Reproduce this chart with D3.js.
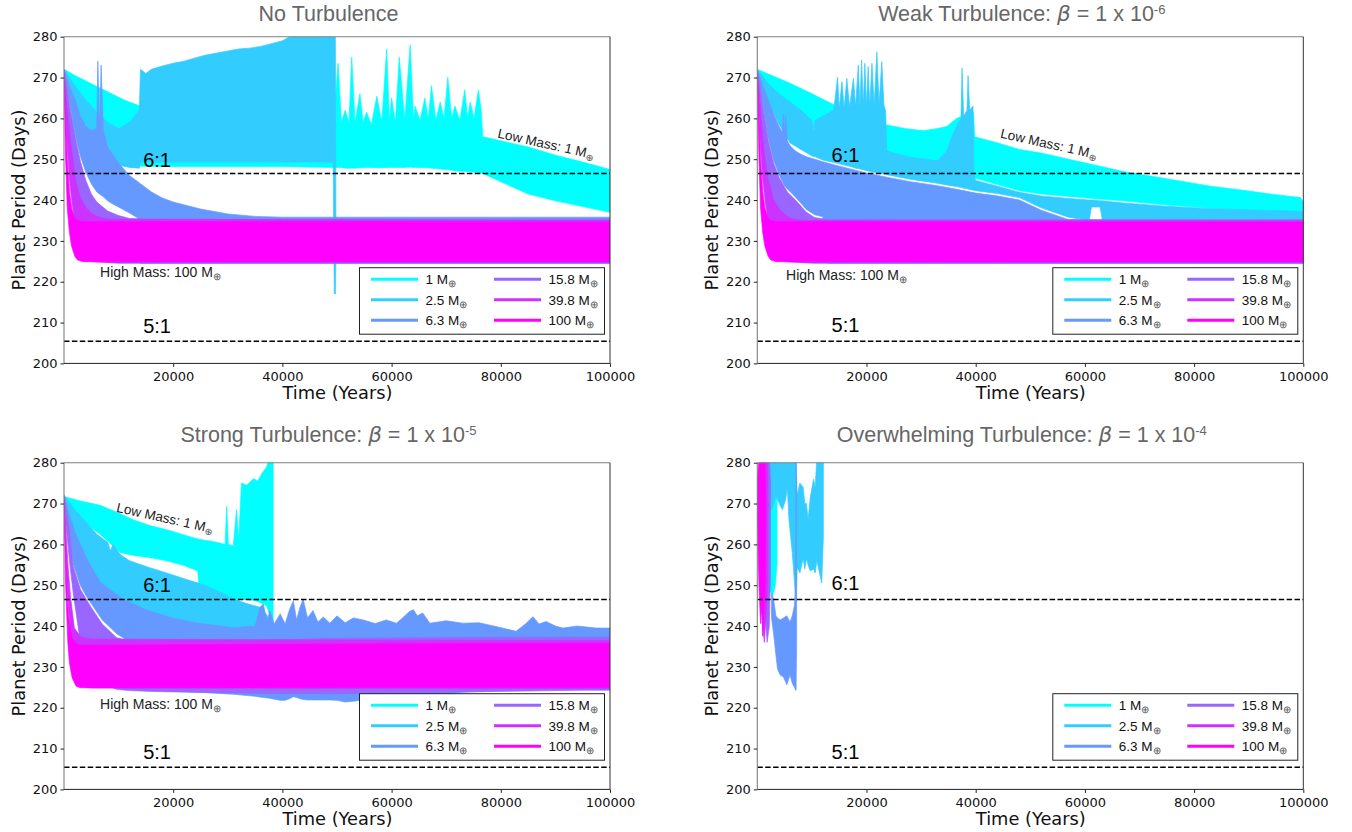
<!DOCTYPE html>
<html><head><meta charset="utf-8">
<script src="https://cdn.jsdelivr.net/npm/d3@7"></script>
<style>body{margin:0;background:#fff}svg{display:block}</style>
</head><body><svg id="c" width="1352" height="832"></svg>
<script>
// ---------- categories / ticks ----------
const masses = ["1","2.5","6.3","15.8","39.8","100"];
const massColors = ["#00ffff","#33ccff","#6699ff","#9966ff","#cc33ff","#ff00ff"];
const yTicks = [200,210,220,230,240,250,260,270,280];
const xTicks = [20000,40000,60000,80000,100000];
const resonanceValues = [246.5, 205.4];
const resonanceLabels = ["6:1","5:1"];
const panelTitles = ["No Turbulence","Weak Turbulence: ","Strong Turbulence: ","Overwhelming Turbulence: "];
const betaExponents = [null,"-6","-5","-4"];

// ---------- series: [time (yr), lower envelope, upper envelope] (days) ----------
// No Turbulence
const noTurb_1 = [[0,270,272],[2000,262,270.5],[5000,256,268.5],[8000,252,266.5],[11000,249.5,264.5],[13900,248.3,263],[20000,248.2,262],[30000,248.2,262],[40000,248.2,262],[49500,248,262],[50200,248,273.5],[50800,248,259],[51500,247.8,262],[52200,247.8,259],[52700,247.8,275],[53300,247.8,259],[54200,247.9,266],[54800,247.9,259],[55400,248,261.5],[56300,248,258.5],[57300,247.9,265.4],[58200,247.9,259],[59100,248,277],[59600,248,259],[60000,248,265],[60700,248,259],[61400,248,275],[62400,248,259.5],[63400,248.1,278],[64000,248,259.5],[64300,248,263],[65200,248,259.5],[66100,247.9,265],[66700,247.9,259.5],[67300,247.8,268],[68100,247.7,259.5],[68900,247.6,264],[69600,247.5,260],[70300,247.5,270],[71000,247.3,260],[71600,247.1,263],[72500,247.1,259.5],[73400,247,267],[73900,247,260],[74400,246.9,264],[75100,246.8,260],[75900,246.7,267],[76400,246.6,262],[76700,246.5,255.5],[80000,244.5,254.5],[85000,241.5,253],[90000,239.8,251],[95000,238.4,249.3],[100000,237,247.5]];
const noTurb_2_5 = [[0,270,272],[1000,265,270],[2000,261,268],[4000,256,264.5],[6000,252.5,261.5],[8000,250,259],[10000,248.5,257.5],[12000,248,259],[13800,247.8,262],[14000,249.3,272],[15000,249.3,271],[16000,249.3,272],[18000,249.3,272.8],[20000,249.3,273.5],[22000,249.3,274],[24000,249.3,274.8],[26000,249.3,275.5],[28000,249.3,276],[30000,249.3,276.5],[32000,249.3,277],[34000,249.3,277.2],[36000,249.3,277.6],[38000,249.3,278.3],[40000,249.3,279],[42000,249.3,280.5],[49300,249.3,281],[49500,217,281],[49700,217,281],[49800,225,235],[100000,225,235]];
const noTurb_6_3 = [[0,271,272],[1000,264,268],[2200,255.2,264],[3000,250.8,260.5],[4000,246.8,258],[5000,244,257],[6000,242,257.5],[6200,241.8,274],[6500,241.5,257],[6800,241.2,273],[7200,240.8,257],[8000,239.8,253],[9000,239,251],[10000,238.3,249],[12000,236.8,246],[13500,235.6,244.5],[14000,224.5,244],[16000,224.5,242],[18000,224.5,240.5],[20000,224.5,239.5],[25000,224.5,237.8],[30000,224.5,236.6],[35000,224.5,236],[40000,224.5,235.8],[100000,224.5,235.8]];
const noTurb_15_8 = [[0,270,272],[1000,252,263.3],[2200,240,254.5],[3000,233,249.5],[4000,229,244.8],[5000,227,241.5],[6000,226,239.5],[8000,224.7,237.3],[10000,224.5,236.2],[12000,224.5,235.5],[15000,224.5,235.3],[100000,224.5,235.3]];
const noTurb_39_8 = [[0,270,271.5],[500,255,263],[1000,245,257],[1500,239,251],[2200,233,244.5],[3000,229,240.5],[4000,226,238.2],[5000,225,236.8],[6000,224.8,236],[8000,224.7,235.3],[100000,224.7,235]];
const noTurb_100 = [[0,270,271],[300,250,260],[600,238,250],[1000,232,242],[1400,228.6,238],[2000,226.2,235.5],[2500,225.3,235],[3500,224.9,234.7],[100000,224.9,234.6]];

// Weak Turbulence
const weak_1 = [[0,270,272],[3000,266,270.3],[6000,262.5,268.6],[10000,258,266],[14500,254,263],[20000,251.5,260],[23700,250,258.4],[27000,249,257.5],[30400,248,257],[33000,247.3,257.5],[34700,246.8,258],[36500,246.4,260],[38500,245.9,261],[39600,245.6,261.5],[39800,245.4,255.5],[44000,243.8,254],[48000,242.3,252.4],[52000,241.5,251.5],[57000,240.9,250],[62000,240.3,248.5],[67000,239.8,247],[75000,238.8,245.2],[83000,238,243.4],[90000,237.5,242.2],[95000,237.1,241.3],[99500,236.8,240.6],[100000,236.8,239.5]];
const weak_2_5 = [[0,270,272],[2000,264,268.5],[4000,258.5,266],[6000,254,264],[8000,252.4,262],[10000,250.8,259.5],[10300,250.7,257],[10600,250.6,259.5],[12000,249.8,260.5],[14000,249.2,262],[14700,249,270.1],[15000,248.9,262.5],[15500,248.7,269],[15900,248.6,262.5],[16400,248.4,269.8],[16900,248.3,262.8],[17600,248,269.8],[18000,247.8,263],[18500,247.7,273.1],[18800,247.6,263],[19100,247.5,274.3],[19400,247.4,263],[19700,247.3,273.5],[20000,247.2,263],[20300,247.1,272.7],[20600,247,263],[21000,246.9,273.5],[21400,246.8,263],[21900,246.7,276.3],[22300,246.6,263.5],[22800,246.5,273.9],[23200,246.4,263],[23500,246.3,262],[23700,246.2,252],[28000,245.1,250.5],[33000,244.1,249.6],[34700,243.7,252],[35500,243.5,255],[36500,243.3,258],[37300,243.1,260],[37500,243,272.3],[37800,242.9,260.5],[38400,242.8,262],[38600,242.7,270.5],[38900,242.6,262],[39500,242.4,263],[39700,242.4,246],[40000,242.3,244.8],[44000,241.6,243.4],[48000,240.6,241.9],[52000,238.1,241],[57000,235.8,240.4],[60800,235,240],[61200,238.3,240],[62800,238.3,239.8],[63200,235,239.8],[67000,234.7,239.3],[75000,234.6,238.5],[83000,234.5,237.9],[90000,234.5,237.6],[100000,234.5,237.2]];
const weak_6_3 = [[0,271,272],[1000,263.7,268],[2000,255.2,264.5],[3000,249.7,261],[4000,246.2,258],[4600,244.5,256.6],[4800,244,261],[5000,243.5,256.2],[5200,243.2,260.5],[5500,242.7,254.5],[6000,242.1,253.3],[7000,240.7,252],[8000,239.2,251.2],[9000,237.7,250.6],[10500,236.4,250],[12000,235.9,249.4],[13000,224.5,249],[15000,224.5,248.3],[20000,224.5,246.6],[23700,224.5,245.6],[28000,224.5,244.5],[33000,224.5,243.5],[37000,224.5,242.5],[40000,224.5,241.7],[44000,224.5,241],[48000,224.5,240],[52000,224.5,237.5],[57000,224.5,235.2],[100000,224.5,234.8]];
const weak_15_8 = [[0,270,272],[1000,252,263],[2000,240,254.5],[3000,233,249],[4000,229,245.5],[5500,226.5,242],[7000,225.5,240],[8000,224.7,238.5],[9000,224.6,237],[10500,224.5,235.7],[13000,224.5,235.2],[100000,224.5,235.2]];
const weak_39_8 = [[0,270,271.5],[500,255,263],[1000,245,255],[1500,239,249],[2000,235,245],[3000,229,240],[4000,226,237.8],[5000,225,236.5],[6000,224.8,235.6],[8000,224.7,235],[100000,224.7,234.9]];
const weak_100 = [[0,270,271],[300,250,260],[600,238,250],[1000,232,242],[1400,228.6,238],[2000,226.2,235.5],[2500,225.3,235],[3500,224.9,234.7],[100000,224.9,234.6]];

// Strong Turbulence
const strong_1 = [[0,270,271.7],[3000,266,270.6],[6600,262.5,269.6],[10300,258,267.5],[12700,257.3,266],[15700,256.8,264.6],[18800,256,263.6],[22000,254.8,262.3],[24500,253.5,261.3],[24900,247.2,261.2],[28000,246.8,260.5],[29500,246.7,260],[29800,246.7,269.3],[30100,246.7,260],[31000,246.6,259.6],[31600,246.6,268.5],[32000,246.6,261],[32500,246.5,275],[33500,246.5,274.5],[34700,246.3,276.1],[35500,246,275.5],[36300,245.5,277.5],[37100,245,278.9],[37600,243,281],[38000,239,281],[38300,238.7,281]];
const strong_2_5 = [[0,270,272],[2000,262,268.5],[4000,256,265.5],[6000,250.5,262.5],[8000,248,260.5],[8500,247.6,258.5],[9000,247.2,260],[10300,246,257.5],[12000,245,256],[15700,242.5,254.3],[18800,241,253],[22000,240.2,251.6],[24900,239.6,250.4],[28000,239,248.7],[31000,238.6,246.7],[33000,238.5,245.7],[35900,238,244.6],[37000,237.8,243],[38000,236,241],[40000,225,238.5],[100000,225,237.5]];
const strong_6_3 = [[0,271.5,272],[1000,262,267],[1700,255.3,264.5],[2000,254,263],[3000,250,260],[4000,247.5,257],[5000,245.5,254.5],[6600,242.3,250.8],[7000,241.5,250.3],[9600,238.2,247.8],[10000,237.8,247.3],[11000,237,246.5],[11500,224.5,246.2],[15000,224.3,244],[20000,224,241.9],[25000,223.8,240.6],[31000,223.3,239.6],[35000,222.8,240],[35900,222.6,244.6],[36500,222.5,245.4],[37200,222.4,241],[37700,222.3,243.8],[38500,222.1,240.5],[39600,221.8,243],[40500,221.8,240.5],[41300,222.2,244],[42000,222.7,246.2],[42600,222.5,241.5],[43200,222.2,244.5],[43800,222,246.6],[44600,221.9,242],[45600,221.9,243.8],[46500,221.9,241],[47500,221.9,242.2],[48700,221.9,240.7],[50000,221.8,242.5],[51500,221.4,240.8],[53000,221.6,242],[54800,221.9,241.5],[57000,222.2,240.6],[59000,222.4,241.5],[60900,222.5,240.7],[62000,222.6,242],[63300,222.7,243.6],[64000,222.7,244],[64700,222.7,242.5],[65700,222.7,243.2],[67000,222.7,240.7],[70000,223.3,241.3],[73000,223.8,240.7],[76000,224,240.8],[79100,224.2,239.9],[81000,224.2,239.3],[82800,224.3,238.7],[84500,224.3,240.5],[85900,224.3,242.3],[87000,224.4,240.5],[88300,224.4,241.1],[90000,224.4,240],[91400,224.4,239.5],[94000,224.4,240],[97500,224.3,239.5],[100000,224.3,239.5]];
const strong_15_8 = [[0,270,272],[1000,256,263],[1700,248,254.5],[3000,236,249],[5000,229,244.5],[7000,226,240.5],[9600,224.5,237.2],[12000,224.2,236.3],[16000,224,236],[30000,223.6,236.3],[50000,223.4,237],[70000,223.8,237.2],[100000,224.4,237.3]];
const strong_39_8 = [[0,270,271.5],[500,252,260],[800,245,253.5],[1200,238,247],[1900,231,239.5],[3000,226.5,237.5],[4000,225,237],[5000,224.8,236.8],[100000,224.7,236.4]];
const strong_100 = [[0,270,271],[300,250,258],[700,236,245],[1000,231,240.5],[1500,227.3,237],[2200,225.3,235.8],[3000,224.9,235.3],[50000,225,235.6],[100000,225,235.8]];

// Overwhelming Turbulence
const over_1 = [[0,270,273.5],[800,262,277],[1500,255,281],[2200,249,281],[2800,247.3,281],[3300,250,281],[3600,255,275]];
const over_2_5 = [[2300,268,281],[2800,269,281],[3400,272,281],[4000,270,281],[4600,268.5,281],[5200,271,281],[5500,274,281],[5800,266,281],[6400,258,281],[6900,249,281],[7100,246,281],[7300,254.5,272],[7800,253,275],[8400,256.5,274],[8700,254,270],[9000,256.5,270],[9300,255,266],[9700,253.5,271.5],[10300,254,276],[10600,253,274],[10900,256,281],[11400,253,281],[11800,250.5,281],[12100,262,281]];
const over_6_3 = [[2600,242,248],[3000,238,246.5],[3400,233,242.5],[3700,229.5,242],[4200,228,241.5],[4800,227.5,242],[5400,225.6,242.5],[6000,228,241],[6400,226,242.5],[6800,225,245],[7000,224.3,250],[7100,224.3,281],[7200,235,270]];
const over_15_8 = [[0,268,276],[800,250,281],[1400,244,281],[1800,236,281],[2200,240,281],[2400,252,276]];
const over_39_8 = [[0,268,276],[600,246,281],[1000,240,281],[1300,236,281],[1600,243,281],[1900,250,281]];
const over_100 = [[0,268,275],[300,250,281],[600,240.6,281],[800,246,281],[1000,237.5,281],[1200,244,281],[1400,248,281],[1500,255,272]];

// ---------- drawing ----------
const svg = d3.select("#c");
const W = 546, H = 326.7;
const panels = [
  {L:64, T:36.7, tOff:-16, series:[noTurb_1,noTurb_2_5,noTurb_6_3,noTurb_15_8,noTurb_39_8,noTurb_100],
   six:[14500,248.2], five:[14500,207.4], high:[6600,221.1], low:[79300,255.3,12.5]},
  {L:757.3, T:36.7, tOff:-16, series:[weak_1,weak_2_5,weak_6_3,weak_15_8,weak_39_8,weak_100],
   six:[13600,249.4], five:[13600,207.8], high:[5260,220.4], low:[44400,255.3,12.5]},
  {L:64, T:462.7, tOff:-21, series:[strong_1,strong_2_5,strong_6_3,strong_15_8,strong_39_8,strong_100],
   six:[14500,248.4], five:[14500,207.4], high:[6600,219.6], low:[9500,268,12.5]},
  {L:757.3, T:462.7, tOff:-21, series:[over_1,over_2_5,over_6_3,over_15_8,over_39_8,over_100],
   six:[13600,248.8], five:[13600,207.4], high:null, low:null}
];
const SANS = "'Liberation Sans', Arial, Helvetica, sans-serif";
const DV = "'DejaVu Sans', sans-serif";

panels.forEach((p,pi)=>{
  const x = d3.scaleLinear().domain([0,100000]).range([p.L,p.L+W]);
  const y = d3.scaleLinear().domain([200,280]).range([p.T+H,p.T]);
  const g = svg.append("g");
  const cid = "clip"+pi;
  svg.append("clipPath").attr("id",cid).append("rect")
    .attr("x",p.L).attr("y",p.T).attr("width",W).attr("height",H);
  const dg = g.append("g").attr("clip-path",`url(#${cid})`);
  const area = d3.area().x(d=>x(d[0])).y0(d=>y(d[1])).y1(d=>y(d[2]));
  p.series.forEach((s,i)=>{
    dg.append("path").datum(s).attr("d",area)
      .attr("fill",massColors[i]).attr("stroke",massColors[i])
      .attr("stroke-width",0.7).attr("stroke-linejoin","round");
  });
  resonanceValues.forEach(v=>{
    dg.append("line").attr("x1",x(0)).attr("x2",x(100000))
      .attr("y1",y(v)).attr("y2",y(v))
      .attr("stroke","#000").attr("stroke-width",1.5).attr("stroke-dasharray","5.5,2.4");
  });
  [p.six,p.five].forEach((pos,k)=>{
    g.append("text").attr("x",x(pos[0])).attr("y",y(pos[1]))
      .attr("font-family",SANS).attr("font-size",20).attr("fill","#000")
      .text(resonanceLabels[k]);
  });
  if(p.high){
    const t = g.append("text").attr("x",x(p.high[0])).attr("y",y(p.high[1]))
      .attr("font-family",SANS).attr("font-size",14).attr("fill","#222");
    t.append("tspan").text("High Mass: 100 M");
    t.append("tspan").attr("font-size",9.5).attr("dy",3).attr("fill","#555").text("⊕");
  }
  if(p.low){
    const lx = x(p.low[0]), ly = y(p.low[1]);
    const t = g.append("text").attr("transform",`translate(${lx},${ly}) rotate(${p.low[2]})`)
      .attr("font-family",SANS).attr("font-size",13.5).attr("fill","#222");
    t.append("tspan").text("Low Mass: 1 M");
    t.append("tspan").attr("font-size",9.5).attr("dy",3).attr("fill","#555").text("⊕");
  }
  // legend
  const lg = g.append("g");
  lg.append("rect").attr("x",p.L+295.5).attr("y",p.T+231).attr("width",245).attr("height",66.5)
    .attr("fill","#fff").attr("stroke","#222").attr("stroke-width",1);
  masses.forEach((m,i)=>{
    const col = Math.floor(i/3), row = i%3;
    const sx = p.L + (col ? 430 : 307);
    const sy = p.T + 242.5 + row*20.5;
    lg.append("line").attr("x1",sx).attr("x2",sx+47).attr("y1",sy).attr("y2",sy)
      .attr("stroke",massColors[i]).attr("stroke-width",3);
    const t = lg.append("text").attr("x",sx+54.5).attr("y",sy+4.8)
      .attr("font-family",SANS).attr("font-size",13.5).attr("fill","#111");
    t.append("tspan").text(m+" M");
    t.append("tspan").attr("font-size",9.5).attr("dy",3).attr("fill","#555").text("⊕");
  });
  // spines
  const sp = g.append("g");
  sp.append("line").attr("x1",p.L).attr("x2",p.L+W).attr("y1",p.T).attr("y2",p.T).attr("stroke","#808080").attr("stroke-width",1.1);
  sp.append("line").attr("x1",p.L).attr("x2",p.L).attr("y1",p.T).attr("y2",p.T+H).attr("stroke","#808080").attr("stroke-width",1.1);
  sp.append("line").attr("x1",p.L).attr("x2",p.L+W).attr("y1",p.T+H).attr("y2",p.T+H).attr("stroke","#222").attr("stroke-width",1);
  sp.append("line").attr("x1",p.L+W).attr("x2",p.L+W).attr("y1",p.T).attr("y2",p.T+H).attr("stroke","#333").attr("stroke-width",1);
  // axes
  const ya = g.append("g").attr("transform",`translate(${p.L},0)`)
    .call(d3.axisLeft(y).tickValues(yTicks).tickSize(3.5).tickPadding(3).tickFormat(d3.format("d")));
  ya.select(".domain").remove();
  ya.selectAll("text").attr("font-family",DV).attr("font-size",13).attr("fill","#111");
  ya.selectAll("line").attr("stroke","#222");
  const xa = g.append("g").attr("transform",`translate(0,${p.T+H})`)
    .call(d3.axisBottom(x).tickValues(xTicks).tickSize(3.5).tickPadding(4.5).tickFormat(d3.format("d")));
  xa.select(".domain").remove();
  xa.selectAll("text").attr("font-family",DV).attr("font-size",13).attr("fill","#111");
  xa.selectAll("line").attr("stroke","#222");
  // axis labels
  g.append("text").attr("x",p.L+273.5).attr("y",p.T+362.3).attr("text-anchor","middle")
    .attr("font-family",DV).attr("font-size",17.8).attr("fill","#111").text("Time (Years)");
  g.append("text").attr("transform",`translate(${p.L-39.5},${p.T+163.3}) rotate(-90)`)
    .attr("text-anchor","middle").attr("font-family",DV).attr("font-size",17.8).attr("fill","#111")
    .text("Planet Period (Days)");
  // title
  const tt = g.append("text").attr("x",p.L+W/2-8.5).attr("y",p.T+p.tOff).attr("text-anchor","middle")
    .attr("font-family",SANS).attr("font-size",21.5).attr("fill","#666");
  tt.append("tspan").text(panelTitles[pi]);
  if(betaExponents[pi]){
    tt.append("tspan").attr("font-family",DV).attr("font-style","italic").text("β");
    tt.append("tspan").text(" = 1 x 10");
    tt.append("tspan").attr("font-size",13).attr("dy",-6.5).text(betaExponents[pi]);
  }
});
</script>
</body></html>
